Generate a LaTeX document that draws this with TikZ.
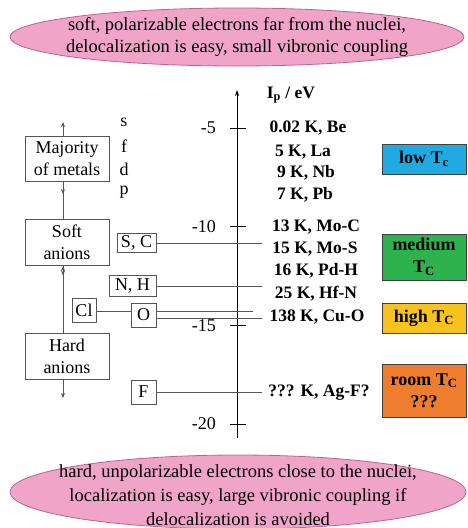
\documentclass[tikz,border=0pt]{standalone}
\usepackage{fontspec}
\setmainfont{Liberation Serif}
\usetikzlibrary{shapes.geometric,arrows.meta}
\definecolor{pinkfill}{HTML}{F0A4C8}
\definecolor{pinkline}{HTML}{B5668F}
\definecolor{lowc}{HTML}{21A9E1}
\definecolor{medc}{HTML}{2EB24D}
\definecolor{highc}{HTML}{F7C31E}
\definecolor{roomc}{HTML}{EE7D2D}
\definecolor{ln}{HTML}{555555}
\tikzset{
  bubble/.style={ellipse, draw=pinkline, fill=pinkfill, line width=0.8pt, inner sep=0pt},
  btext/.style={align=center, font=\fontsize{18.5}{22}\selectfont, inner sep=0pt},
  gbox/.style={draw=ln, line width=0.8pt, inner sep=0pt, align=center, font=\fontsize{18}{22}\selectfont},
  tcbox/.style={draw=black!75, line width=0.8pt, inner sep=0pt, align=center, font=\bfseries\fontsize{18}{22}\selectfont},
  lbl/.style={font=\bfseries\fontsize{17.5}{21}\selectfont, inner sep=0pt},
  tk/.style={font=\fontsize{18}{21}\selectfont, inner sep=0pt, anchor=east},
  orb/.style={font=\fontsize{18}{21}\selectfont, inner sep=0pt},
  conn/.style={draw=ln, line width=0.8pt},
  tip/.style={conn, -{Stealth[length=5pt,width=4pt]}}
}
\begin{document}
\begin{tikzpicture}[x=1pt,y=-1pt]
\useasboundingbox (0,0) rectangle (467,528);
% ellipses
\node[bubble, minimum width=454pt, minimum height=58pt] (topell) at (237,37) {};
\node[btext] (toptext) at (237,37) {soft, polarizable electrons far from the nuclei,\\delocalization is easy, small vibronic coupling};
\node[bubble, minimum width=456pt, minimum height=74pt] (botell) at (238,492) {};
\node[btext, font=\fontsize{18.5}{24}\selectfont] (bottext) at (238,495) {hard, unpolarizable electrons close to the nuclei,\\localization is easy, large vibronic coupling if\\delocalization is avoided};
% axis
\coordinate (axB) at (237,438);
\coordinate (axT) at (237,90);
\draw[line width=0.9pt, -{Stealth[length=6pt,width=4pt]}] (axB) -- (axT);
\node[lbl] (ip) at (291,95) {I\textsubscript{p} / eV};
\foreach \v/\y in {-5/128,-10/226.7,-15/325.3,-20/424}{
  \draw[line width=0.8pt] (230,\y) -- (246,\y);
  \node[tk] (tick\v) at (216,\y) {\v};
}
% orbitals
\node[orb] (os) at (124,122) {s};
\node[orb] (of) at (124,146) {f};
\node[orb] (od) at (124,169) {d};
\node[orb] (op) at (124,192) {p};
% left boxes
\node[gbox, minimum width=84pt, minimum height=45pt] (maj) at (67,158.5) {Majority\\of metals};
\node[gbox, minimum width=84pt, minimum height=46pt] (soft) at (67,242) {Soft\\anions};
\node[gbox, minimum width=84pt, minimum height=46pt] (hard) at (67,356) {Hard\\anions};
\node[gbox, minimum width=39pt, minimum height=19pt] (sc) at (136.5,243) {S, C};
\node[gbox, minimum width=47pt, minimum height=21pt] (nh) at (132.5,286) {N, H};
\node[gbox, minimum width=24pt, minimum height=24pt] (cl) at (84,310) {Cl};
\node[gbox, minimum width=25pt, minimum height=24pt] (ox) at (143.5,315) {O};
\node[gbox, minimum width=25pt, minimum height=24pt] (fl) at (143.5,392) {F};
% vertical connectors
\coordinate (upT) at (63,122);
\coordinate (mdA) at (63,186);
\coordinate (mdB) at (63,194);
\coordinate (sfA) at (63,275);
\coordinate (sfB) at (63,266);
\coordinate (sfC) at (63,268);
\coordinate (sfD) at (63,275.5);
\coordinate (dnT) at (63,398);
\draw[tip] (maj.north -| upT) -- (upT);
\draw[conn] (maj.south -| upT) -- (soft.north -| upT);
\draw[tip] (mdA) -- (mdB);
\draw[conn] (soft.south -| upT) -- (hard.north -| upT);
\draw[tip] (sfA) -- (sfB);
\draw[tip] (sfC) -- (sfD);
\draw[tip] (hard.south -| upT) -- (dnT);
% horizontal connectors
\coordinate (eSC) at (262,243);
\coordinate (eNH) at (262,286);
\coordinate (eO1) at (253,311);
\coordinate (eO2) at (262,318);
\coordinate (eF) at (262,392);
\draw[conn] (sc.east) -- (eSC);
\draw[conn] (nh.east) -- (eNH);
\draw[conn] (cl.east |- eO1) -- (ox.west |- eO1);
\draw[conn] (ox.east |- eO1) -- (eO1);
\draw[conn] (ox.east |- eO2) -- (eO2);
\draw[conn] (fl.east) -- (eF);
% right labels
\node[lbl] (be) at (308,128) {0.02 K, Be};
\node[lbl] (la) at (303,152) {5 K, La};
\node[lbl] (nb) at (306,173) {9 K, Nb};
\node[lbl] (pb) at (305,195) {7 K, Pb};
\node[lbl] (moc) at (316,227) {13 K, Mo-C};
\node[lbl] (mos) at (315,249) {15 K, Mo-S};
\node[lbl] (pdh) at (316,271) {16 K, Pd-H};
\node[lbl] (hfn) at (316,294) {25 K, Hf-N};
\node[lbl] (cuo) at (317,317) {138 K, Cu-O};
\node[lbl] (agf) at (319,393) {??? K, Ag-F?};
% Tc boxes
\node[tcbox, fill=lowc, minimum width=84pt, minimum height=30pt] (low) at (424,159) {low T\textsubscript{c}};
\node[tcbox, fill=medc, minimum width=84pt, minimum height=46pt] (med) at (424,257) {medium\\T\textsubscript{C}};
\node[tcbox, fill=highc, minimum width=84pt, minimum height=30pt] (high) at (424,318) {high T\textsubscript{C}};
\node[tcbox, fill=roomc, minimum width=84pt, minimum height=53pt] (room) at (424,390.5) {room T\textsubscript{C}\\???};
\end{tikzpicture}
\end{document}
